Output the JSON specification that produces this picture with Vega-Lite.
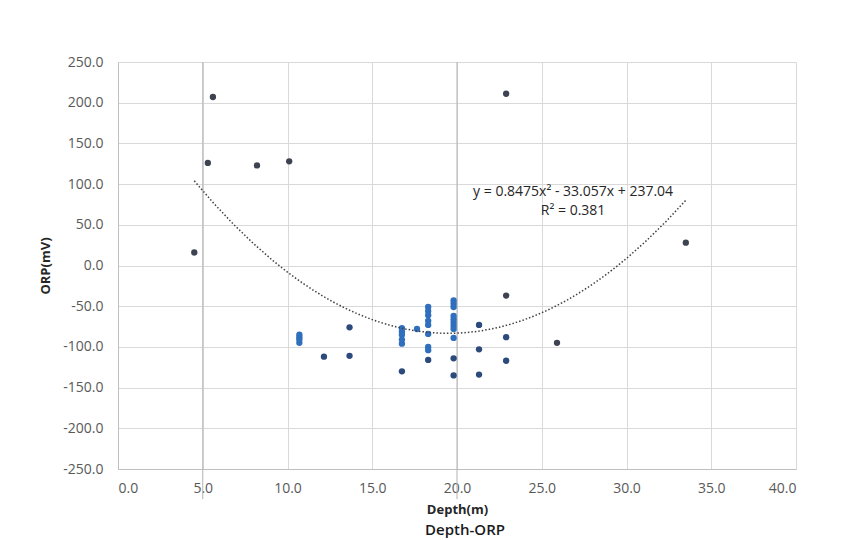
{
  "$schema": "https://vega.github.io/schema/vega-lite/v6.json",
  "width": 678,
  "height": 407,
  "autosize": "none",
  "padding": {"left": 118, "top": 62, "right": 47, "bottom": 71},
  "background": "white",
  "config": {
    "view": {"stroke": null},
    "font": "Open Sans",
    "axis": {"gridColor": "#d9d9d9", "gridWidth": 1, "domainColor": "#bfbfbf", "ticks": false, "labelColor": "#595959", "labelFont": "Open Sans", "labelFontSize": 14, "titleFont": "Open Sans", "titleFontSize": 13, "titleFontWeight": "bold", "titleColor": "#262626"}
  },
  "title": {"text": "Depth-ORP", "orient": "bottom", "fontSize": 15, "fontWeight": 600, "color": "#1a1a1a", "offset": 7, "dx": 8, "font": "Open Sans"},
  "datasets": {
    "pts": [
      {"depth": 4.5, "orp": 16, "set": "c"},
      {"depth": 5.3, "orp": 126, "set": "c"},
      {"depth": 5.6, "orp": 207, "set": "c"},
      {"depth": 8.2, "orp": 123, "set": "c"},
      {"depth": 10.1, "orp": 128, "set": "c"},
      {"depth": 22.9, "orp": 211, "set": "c"},
      {"depth": 33.5, "orp": 28, "set": "c"},
      {"depth": 22.9, "orp": -37, "set": "c"},
      {"depth": 25.9, "orp": -95, "set": "c"},
      {"depth": 12.15, "orp": -112, "set": "b"},
      {"depth": 13.66, "orp": -76, "set": "b"},
      {"depth": 13.66, "orp": -111, "set": "b"},
      {"depth": 16.75, "orp": -130, "set": "b"},
      {"depth": 18.3, "orp": -116, "set": "b"},
      {"depth": 19.8, "orp": -114, "set": "b"},
      {"depth": 19.8, "orp": -135, "set": "b"},
      {"depth": 21.3, "orp": -73, "set": "b"},
      {"depth": 21.3, "orp": -103, "set": "b"},
      {"depth": 21.3, "orp": -134, "set": "b"},
      {"depth": 22.9, "orp": -88, "set": "b"},
      {"depth": 22.9, "orp": -117, "set": "b"},
      {"depth": 10.7, "orp": -85, "set": "a"},
      {"depth": 10.7, "orp": -88, "set": "a"},
      {"depth": 10.7, "orp": -91, "set": "a"},
      {"depth": 10.7, "orp": -95, "set": "a"},
      {"depth": 16.75, "orp": -77, "set": "a"},
      {"depth": 16.75, "orp": -81, "set": "a"},
      {"depth": 16.75, "orp": -85, "set": "a"},
      {"depth": 16.75, "orp": -91, "set": "a"},
      {"depth": 16.75, "orp": -96, "set": "a"},
      {"depth": 17.64, "orp": -78, "set": "a"},
      {"depth": 18.3, "orp": -51, "set": "a"},
      {"depth": 18.3, "orp": -56, "set": "a"},
      {"depth": 18.3, "orp": -61, "set": "a"},
      {"depth": 18.3, "orp": -68, "set": "a"},
      {"depth": 18.3, "orp": -73, "set": "a"},
      {"depth": 18.3, "orp": -84, "set": "a"},
      {"depth": 18.3, "orp": -100, "set": "a"},
      {"depth": 18.3, "orp": -104, "set": "a"},
      {"depth": 19.8, "orp": -43, "set": "a"},
      {"depth": 19.8, "orp": -47, "set": "a"},
      {"depth": 19.8, "orp": -51, "set": "a"},
      {"depth": 19.8, "orp": -62, "set": "a"},
      {"depth": 19.8, "orp": -66, "set": "a"},
      {"depth": 19.8, "orp": -70, "set": "a"},
      {"depth": 19.8, "orp": -74, "set": "a"},
      {"depth": 19.8, "orp": -78, "set": "a"},
      {"depth": 19.8, "orp": -89, "set": "a"}
    ],
    "marks": [
      {"depth": 5, "top": 250, "bottom": -287},
      {"depth": 20, "top": 250, "bottom": -287}
    ],
    "notes": [
      {"depth": 26.85, "orp": 90, "label": "y = 0.8475x² - 33.057x + 237.04"},
      {"depth": 26.85, "orp": 67, "label": "R² = 0.381"}
    ]
  },
  "layer": [
    {
      "data": {"name": "marks"},
      "mark": {"type": "rule", "color": "#b3b3b3", "strokeWidth": 1},
      "encoding": {
        "x": {"field": "depth", "type": "quantitative", "scale": {"domain": [0, 40]}},
        "y": {"field": "top", "type": "quantitative", "scale": {"domain": [-250, 250]}},
        "y2": {"field": "bottom"}
      }
    },
    {
      "data": {"name": "pts"},
      "mark": {"type": "circle", "size": 40, "opacity": 1},
      "encoding": {
        "x": {"field": "depth", "type": "quantitative", "title": "Depth(m)",
              "scale": {"domain": [0, 40], "nice": false},
              "axis": {"values": [0, 5, 10, 15, 20, 25, 30, 35, 40], "format": ".1f", "labelPadding": 12, "titlePadding": 8}},
        "y": {"field": "orp", "type": "quantitative", "title": "ORP(mV)",
              "scale": {"domain": [-250, 250], "nice": false},
              "axis": {"values": [-250, -200, -150, -100, -50, 0, 50, 100, 150, 200, 250], "labelExpr": "replace(format(datum.value, '.1f'), '\u2212', '-')", "labelPadding": 15, "titlePadding": 10}},
        "color": {"field": "set", "type": "nominal", "legend": null,
                  "scale": {"domain": ["a", "b", "c"], "range": ["#2f6fbd", "#2c4a7c", "#3d4350"]}}
      }
    },
    {
      "data": {"name": "pts"},
      "transform": [{"regression": "orp", "on": "depth", "method": "poly", "order": 2}],
      "mark": {"type": "line", "color": "#404040", "strokeWidth": 1.5, "strokeDash": [1.5, 2]},
      "encoding": {
        "x": {"field": "depth", "type": "quantitative"},
        "y": {"field": "orp", "type": "quantitative"}
      }
    },
    {
      "data": {"name": "notes"},
      "mark": {"type": "text", "fontSize": 14, "color": "#262626", "align": "center", "baseline": "middle"},
      "encoding": {
        "x": {"field": "depth", "type": "quantitative"},
        "y": {"field": "orp", "type": "quantitative"},
        "text": {"field": "label"}
      }
    }
  ]
}
